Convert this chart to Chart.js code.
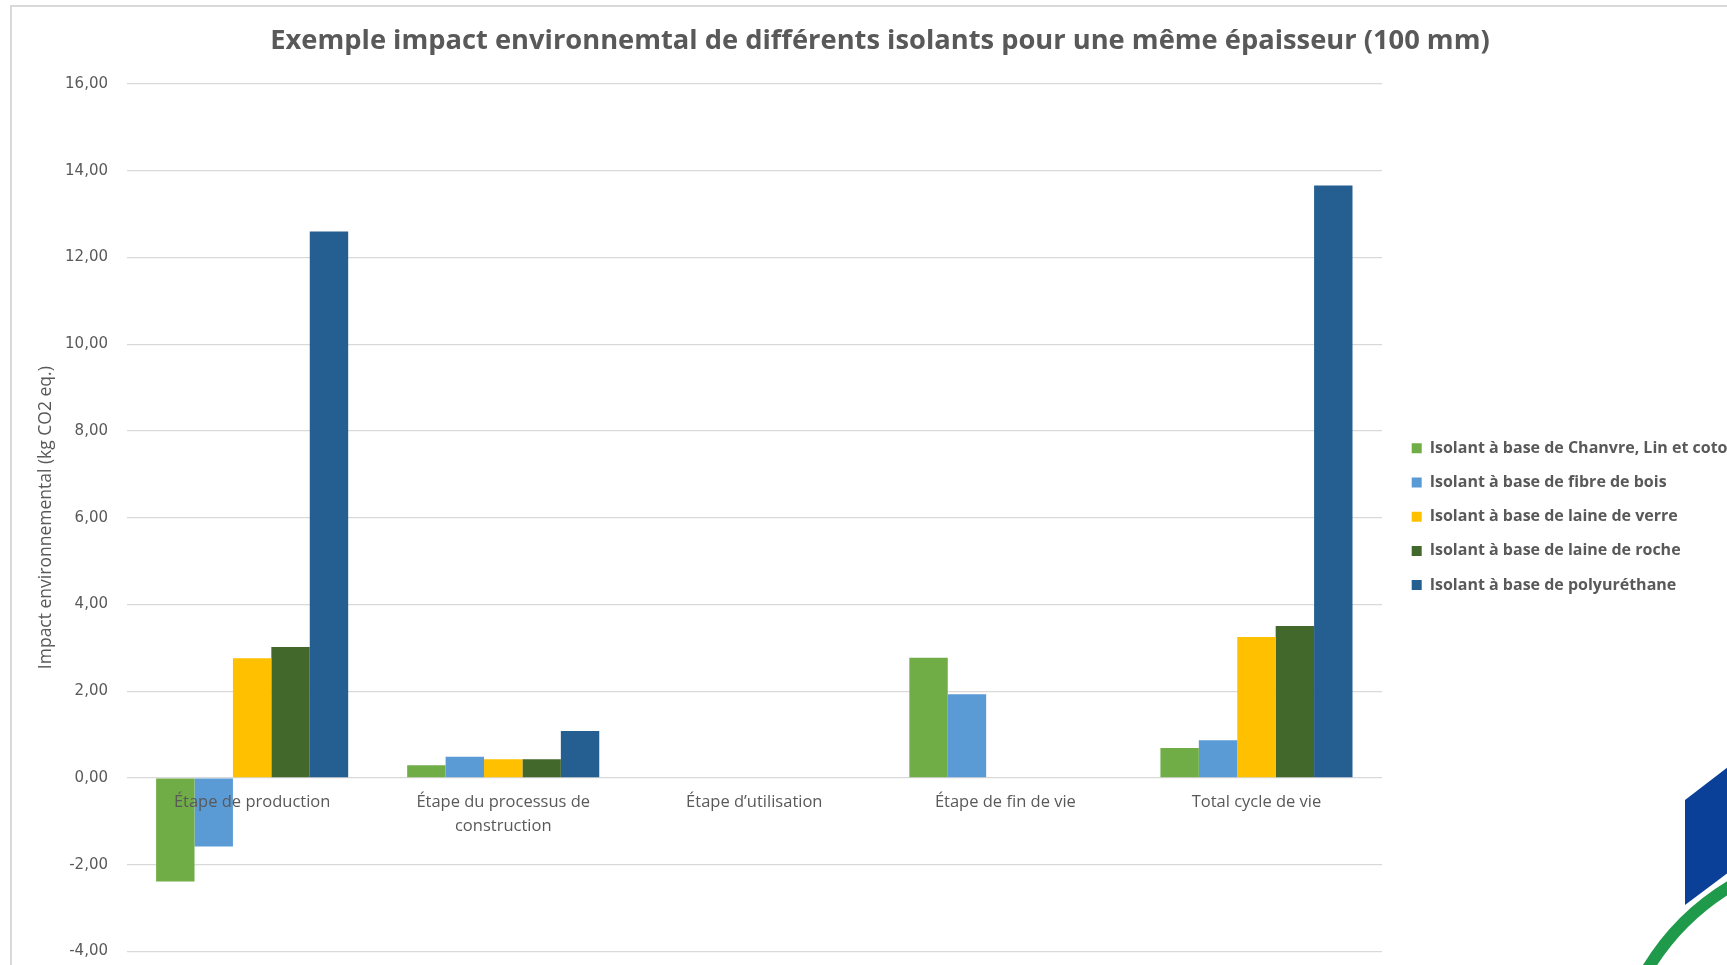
<!DOCTYPE html>
<html>
<head>
<meta charset="utf-8">
<script src="https://cdn.jsdelivr.net/npm/chart.js@4/dist/chart.umd.min.js"></script>
<style>
html, body { margin:0; padding:0; background:#fff; overflow:hidden; width:1727px; height:965px; }
#frame { position:absolute; left:10px; top:5px; width:1850px; height:1100px; border-left:2px solid #d9d9d9; border-top:2px solid #d9d9d9; }
#c { position:absolute; left:12px; top:7px; }
#logo { position:absolute; left:1600px; top:740px; }
</style>
</head>
<body>
<div id="frame"></div>
<canvas id="c"></canvas>
<svg id="logo" width="127" height="225" viewBox="1600 740 127 225">
  <polygon points="1685,800 1745,754 1745,860 1685,905" fill="#0b4098"/>
  <path d="M1644,975 Q1680,912 1745,878" fill="none" stroke="#1f9a4a" stroke-width="12"/>
</svg>
<script>
// ---- Data ----
const categories = [
  'Étape de production',
  ['Étape du processus de', 'construction'],
  'Étape d’utilisation',
  'Étape de fin de vie',
  'Total cycle de vie'
];
const seriesNames = [
  'Isolant à base de Chanvre, Lin et coton',
  'Isolant à base de fibre de bois',
  'Isolant à base de laine de verre',
  'Isolant à base de laine de roche',
  'Isolant à base de polyuréthane'
];
const chanvreLinCoton = [-2.39, 0.29, 0, 2.77, 0.69];
const fibreDeBois     = [-1.58, 0.49, 0, 1.93, 0.87];
const laineDeVerre    = [2.76, 0.43, 0, 0, 3.25];
const laineDeRoche    = [3.02, 0.43, 0, 0, 3.50];
const polyurethane    = [12.60, 1.08, 0, 0, 13.66];
const yMin = -4, yMax = 16, yStep = 2;
const chartTitle = 'Exemple impact environnemtal de différents isolants pour une même épaisseur (100 mm)';
const yTitle = 'Impact environnemental (kg CO2 eq.)';

// ---- Style / layout ----
const colors = ['#70AD47', '#5B9BD5', '#FFC000', '#43682B', '#255E91'];
const textColor = '#595959';
const W = 1736, H = 972;
const gapWidth = 11.5;
const legendMaxWidth = W - 1370 - gapWidth;

const cv = document.getElementById('c');
cv.width = W; cv.height = H;
cv.style.width = W + 'px'; cv.style.height = H + 'px';

const allSeries = [chanvreLinCoton, fibreDeBois, laineDeVerre, laineDeRoche, polyurethane];

new Chart(cv, {
  type: 'bar',
  data: {
    labels: categories,
    datasets: allSeries.map((d, i) => ({
      label: seriesNames[i],
      data: d,
      backgroundColor: colors[i],
      borderWidth: 0,
      barPercentage: 1,
      categoryPercentage: 0.765
    }))
  },
  options: {
    responsive: false,
    animation: false,
    devicePixelRatio: 1,
    layout: { padding: 0 },
    plugins: {
      title: {
        display: true,
        text: chartTitle,
        color: textColor,
        font: { family: '"Open Sans"', size: 27.3, weight: 'bold' },
        padding: { top: 17.6, bottom: 26.6 }
      },
      legend: {
        position: 'right',
        align: 'start',
        maxWidth: legendMaxWidth,
        title: { display: true, text: '', font: { size: 12 }, padding: { top: 400.7, bottom: 0 } },
        labels: {
          boxWidth: 10,
          boxHeight: 10,
          padding: 18.2,
          color: textColor,
          font: { family: '"Open Sans"', size: 16, weight: 'bold' }
        }
      },
      tooltip: { enabled: false }
    },
    scales: {
      x: {
        position: { y: 0 },
        grid: { display: false, drawTicks: false },
        border: { display: false },
        ticks: {
          z: 1,
          color: textColor,
          font: { family: '"Open Sans"', size: 16.5, lineHeight: 1.4545 },
          padding: 12,
          maxRotation: 0,
          autoSkip: false
        },
        afterFit: s => { s.height = 0; }
      },
      y: {
        min: yMin,
        max: yMax,
        ticks: {
          stepSize: yStep,
          color: textColor,
          font: { family: '"DejaVu Sans"', size: 15 },
          padding: 18.6,
          callback: v => v.toFixed(2).replace('.', ',')
        },
        grid: { color: '#d9d9d9', lineWidth: 1.3, drawTicks: false },
        border: { display: false },
        title: {
          display: true,
          text: yTitle,
          color: textColor,
          font: { family: '"Open Sans"', size: 17.5 },
          padding: { top: 23.5, bottom: 8 }
        },
        afterFit: s => { s.width = 114.6; }
      },
      gap: {
        type: 'linear',
        position: 'right',
        display: true,
        grid: { display: false, drawTicks: false },
        border: { display: false },
        ticks: { display: false },
        afterFit: s => { s.width = gapWidth; }
      }
    }
  }
});
</script>
</body>
</html>
